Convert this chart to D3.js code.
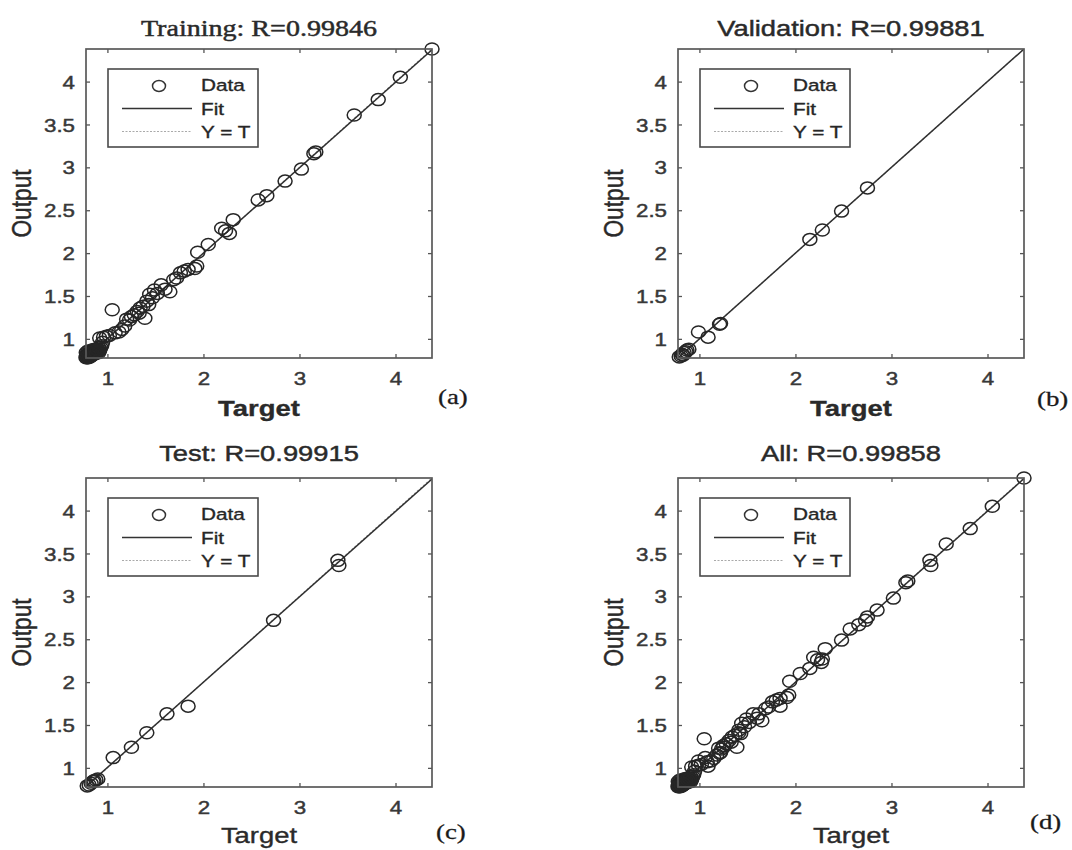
<!DOCTYPE html>
<html><head><meta charset="utf-8">
<script src="https://cdn.jsdelivr.net/npm/d3@7"></script>
<style>body{margin:0;background:#fff}</style>
</head><body>
<svg id="chart" width="1072" height="850"></svg>
<script>
// ---------- data (Target, Output) ----------
const trainingData = [
 [0.777,0.78],[0.79,0.78],[0.80,0.80],[0.81,0.79],[0.82,0.81],[0.83,0.82],[0.84,0.84],[0.85,0.83],[0.86,0.86],
 [0.87,0.85],[0.88,0.87],[0.89,0.88],[0.80,0.82],[0.82,0.79],[0.84,0.81],[0.86,0.84],[0.88,0.85],[0.90,0.88],
 [0.78,0.80],[0.81,0.83],[0.83,0.85],[0.85,0.87],[0.87,0.88],[0.91,0.90],[0.79,0.81],[0.80,0.78],[0.83,0.80],
 [0.78,0.84],[0.80,0.86],[0.84,0.87],[0.88,0.83],[0.90,0.85],[0.92,0.87],[0.93,0.90],[0.82,0.84],[0.86,0.82],
 [0.89,0.86],[0.91,0.84],[0.79,0.83],[0.94,0.92],[0.95,0.96],[0.785,0.79],[0.795,0.80],[0.805,0.81],[0.815,0.80],
 [0.825,0.83],[0.835,0.81],[0.845,0.82],[0.855,0.85],[0.865,0.83],[0.875,0.86],[0.885,0.84],[0.895,0.87],
 [0.92,1.01],[0.96,1.02],[0.99,1.03],[1.02,1.04],[1.05,1.34],[1.08,1.07],[1.12,1.08],[1.15,1.11],[1.18,1.15],
 [1.20,1.23],[1.23,1.22],[1.25,1.26],[1.28,1.28],[1.31,1.32],[1.33,1.30],[1.34,1.36],[1.37,1.38],[1.39,1.24],
 [1.41,1.44],[1.43,1.40],[1.44,1.52],[1.47,1.48],[1.49,1.57],[1.52,1.53],[1.56,1.63],[1.60,1.58],[1.65,1.55],
 [1.69,1.69],[1.72,1.71],[1.76,1.77],[1.80,1.79],[1.84,1.81],[1.91,1.82],[1.93,1.85],[1.94,2.01],[2.05,2.10],
 [2.19,2.29],[2.23,2.26],[2.27,2.23],[2.31,2.39],[2.57,2.62],[2.66,2.67],[2.85,2.84],[3.02,2.98],[3.15,3.16],
 [3.17,3.18],[3.57,3.61],[3.82,3.79],[4.05,4.05],[4.38,4.38]
];
const validationData = [
 [0.79,0.79],[0.81,0.80],[0.82,0.82],[0.83,0.81],[0.84,0.84],[0.86,0.85],[0.87,0.87],[0.89,0.88],
 [0.99,1.08],[1.09,1.02],[1.21,1.17],[1.22,1.18],[2.15,2.16],[2.28,2.27],[2.48,2.49],[2.75,2.76]
];
const testData = [
 [0.79,0.79],[0.81,0.80],[0.83,0.82],[0.85,0.84],[0.86,0.85],[0.88,0.86],[0.90,0.87],
 [1.06,1.12],[1.25,1.24],[1.41,1.41],[1.62,1.63],[1.84,1.72],[2.73,2.72],[3.40,3.42],[3.41,3.36]
];
const allData = trainingData.concat(validationData, testData);

const panelTitles = ["Training: R=0.99846", "Validation: R=0.99881", "Test: R=0.99915", "All: R=0.99858"];
const panelLetters = ["(a)", "(b)", "(c)", "(d)"];
const xTickValues = [1, 2, 3, 4];
const yTickValues = [1, 1.5, 2, 2.5, 3, 3.5, 4];
const axisLimits = [0.777, 4.38];
const fitSlope = [0.996, 1.0, 0.995, 0.997];
const fitIntercept = [0.008, 0.0, 0.01, 0.006];
const legendLabels = ["Data", "Fit", "Y = T"];
const xAxisLabel = "Target", yAxisLabel = "Output";

// ---------- layout ----------
const SX = 1.22; // horizontal stretch of the original picture
const W = 346, H = 309;
const SANS = "'Liberation Sans', Arial, sans-serif";
const SERIF = "'Liberation Serif', 'Times New Roman', serif";
const panels = [
 {data: trainingData,   left: 86,  top: 49,  titleFont: SERIF, titleSize: 23, titleY: 36, tBold: true,  tY: 416, letX: 438,  letY: 404},
 {data: validationData, left: 678, top: 49,  titleFont: SANS, titleSize: 22.4, titleY: 36, tBold: true,  tY: 416, letX: 1037, letY: 406},
 {data: testData,       left: 86,  top: 478, titleFont: SANS, titleSize: 22.4, titleY: 461, tBold: false, tY: 843, letX: 436,  letY: 839},
 {data: allData,        left: 678, top: 478, titleFont: SANS, titleSize: 22.4, titleY: 461, tBold: false, tY: 843, letX: 1030, letY: 829}
];

const svg = d3.select("#chart");
const defs = svg.append("defs");

function stretchedText(g, x, y, str, o) {
  const col = o.fill || "#262626";
  return g.append("text")
    .attr("transform", `translate(${x},${y}) scale(${SX},1)` + (o.rotate ? ` rotate(${o.rotate})` : ""))
    .attr("text-anchor", o.anchor || "start")
    .style("font-family", o.font || SANS)
    .style("font-size", (o.size || 18) + "px")
    .style("font-weight", o.bold ? "bold" : "normal")
    .attr("fill", col).attr("stroke", col).attr("stroke-width", o.sw == null ? 0.35 : o.sw)
    .text(str);
}

panels.forEach((p, i) => {
  const g = svg.append("g").attr("transform", `translate(${p.left},${p.top})`);
  const x = d3.scaleLinear().domain(axisLimits).range([0, W]);
  const y = d3.scaleLinear().domain(axisLimits).range([H, 0]);

  defs.append("clipPath").attr("id", "clip" + i)
    .append("rect").attr("width", W).attr("height", H);

  const tickCol = "#555";
  const ax = [
    g.append("g").attr("transform", `translate(0,${H})`).call(d3.axisBottom(x).tickValues(xTickValues).tickSizeInner(-4).tickSizeOuter(0).tickPadding(14).tickFormat(d3.format("d"))),
    g.append("g").call(d3.axisLeft(y).tickValues(yTickValues).tickSizeInner(-4).tickSizeOuter(0).tickPadding(11).tickFormat(d => d)),
    g.append("g").call(d3.axisTop(x).tickValues(xTickValues).tickSizeInner(-4).tickSizeOuter(0).tickFormat("")),
    g.append("g").attr("transform", `translate(${W},0)`).call(d3.axisRight(y).tickValues(yTickValues).tickSizeInner(-4).tickSizeOuter(0).tickFormat(""))
  ];
  ax.forEach(a => {
    a.select(".domain").remove();
    a.selectAll(".tick line").attr("stroke", tickCol).attr("stroke-width", 1.3);
    a.selectAll(".tick text")
      .style("font-family", SANS).style("font-size", "18.3px")
      .attr("fill", "#383838").attr("stroke", "#383838").attr("stroke-width", 0.45);
  });
  ax[0].selectAll(".tick text").attr("transform", `scale(${SX},1)`);
  ax[1].selectAll(".tick text").attr("x", -11 / SX).attr("dy", "0.36em").attr("transform", `scale(${SX},1)`);

  // Y = T and Fit lines (clipped)
  const lines = g.append("g").attr("clip-path", `url(#clip${i})`);
  lines.append("line")
    .attr("x1", x(axisLimits[0])).attr("y1", y(axisLimits[0]))
    .attr("x2", x(axisLimits[1])).attr("y2", y(axisLimits[1]))
    .attr("stroke", "#9a9a9a").attr("stroke-width", 1.2).attr("stroke-dasharray", "2,2");
  lines.append("line")
    .attr("x1", x(axisLimits[0])).attr("y1", y(fitSlope[i] * axisLimits[0] + fitIntercept[i]))
    .attr("x2", x(axisLimits[1])).attr("y2", y(fitSlope[i] * axisLimits[1] + fitIntercept[i]))
    .attr("stroke", "#303030").attr("stroke-width", 1.5);

  // data circles (not clipped, like the original)
  g.append("g").selectAll("ellipse").data(p.data).join("ellipse")
    .attr("cx", d => x(d[0])).attr("cy", d => y(d[1]))
    .attr("rx", 7).attr("ry", 6)
    .attr("fill", "none").attr("stroke", "#262626").attr("stroke-width", 1.5);

  // box
  g.append("rect").attr("width", W).attr("height", H)
    .attr("fill", "none").attr("stroke", "#595959").attr("stroke-width", 1.7);

  // legend
  const lg = g.append("g").attr("transform", "translate(22,20)");
  lg.append("rect").attr("width", 150).attr("height", 78)
    .attr("fill", "#fff").attr("stroke", "#4a4a4a").attr("stroke-width", 1.6);
  lg.append("ellipse").attr("cx", 51).attr("cy", 17).attr("rx", 6.5).attr("ry", 5.5)
    .attr("fill", "none").attr("stroke", "#333").attr("stroke-width", 1.5);
  lg.append("line").attr("x1", 14).attr("x2", 84).attr("y1", 39.5).attr("y2", 39.5)
    .attr("stroke", "#333").attr("stroke-width", 1.6);
  lg.append("line").attr("x1", 14).attr("x2", 84).attr("y1", 62.5).attr("y2", 62.5)
    .attr("stroke", "#aaa").attr("stroke-width", 1.2).attr("stroke-dasharray", "2,1.5");
  [22, 45.5, 68.5].forEach((yy, k) => stretchedText(lg, 93, yy, legendLabels[k], {size: 17, fill: "#262626"}));

  // title
  stretchedText(svg, p.left + W / 2, p.titleY, panelTitles[i], {anchor: "middle", font: p.titleFont, size: p.titleSize, fill: "#2a2a2a", sw: 0.45});
  // axis labels
  stretchedText(svg, p.left + W / 2, p.tY, xAxisLabel, {anchor: "middle", size: 22.5, bold: p.tBold, fill: "#2a2a2a"});
  stretchedText(svg, p.left - 55, p.top + H / 2, yAxisLabel, {anchor: "middle", size: 22.7, rotate: -90, fill: "#2a2a2a"});
  // panel letter
  stretchedText(svg, p.letX, p.letY, panelLetters[i], {font: SERIF, size: 22, fill: "#1a1a1a", sw: 0.3});
});
</script>
</body></html>
